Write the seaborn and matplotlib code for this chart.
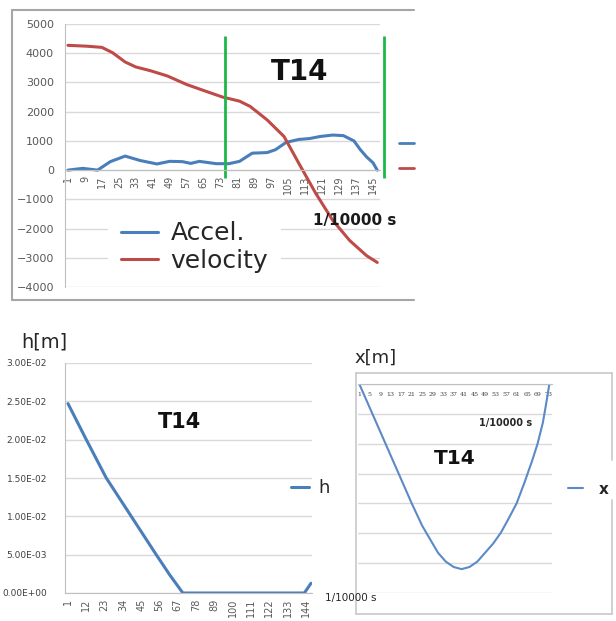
import numpy as np
import pandas as pd
import matplotlib
matplotlib.use("Agg")
import matplotlib.pyplot as plt
from matplotlib.lines import Line2D
from matplotlib.ticker import FormatStrFormatter
import seaborn as sns

# Top panel: acceleration and velocity (time in 1/10000 s)
acc_t = [1, 8, 15, 21, 28, 35, 43, 49, 55, 59, 63, 71, 77, 82, 88, 95, 99, 104, 110, 115, 120, 126, 131, 136, 139, 142, 145, 147]
acc = [0, 60, 0, 290, 480, 330, 210, 300, 290, 230, 300, 220, 220, 300, 580, 600, 700, 950, 1050, 1080, 1150, 1200, 1180, 1000, 700, 450, 250, 0]

vel_t = [1, 10, 17, 22, 28, 33, 40, 48, 57, 66, 74, 82, 87, 95, 103, 110, 118, 126, 134, 142, 147]
vel = [4270, 4240, 4200, 4020, 3700, 3530, 3400, 3220, 2930, 2700, 2500, 2360, 2180, 1720, 1150, 230, -800, -1720, -2410, -2930, -3160]

window = [75, 150]          # green markers for the T14 window
top_xticks = list(range(1, 146, 8))

# Bottom-left panel: height h[m]
h_t = [1, 12, 24, 39, 54, 62, 70, 143, 147]
h = [0.0247, 0.020, 0.015, 0.010, 0.005, 0.0024, 0.0, 0.0, 0.00127]
h_xticks = list(range(1, 145, 11))

# Bottom-right panel: horizontal position x[m]
x_t = [1, 6, 11, 16, 21, 25, 28, 31, 34, 37, 40, 43, 46, 49, 52, 55, 58, 61, 64, 67, 69, 71, 72, 73.5]
x_pos = [0, -1.0e-4, -2.0e-4, -3.0e-4, -4.0e-4, -4.75e-4, -5.2e-4, -5.65e-4, -5.95e-4, -6.13e-4,
         -6.2e-4, -6.13e-4, -5.95e-4, -5.65e-4, -5.35e-4, -4.98e-4, -4.5e-4, -4.0e-4, -3.3e-4,
         -2.55e-4, -2.0e-4, -1.3e-4, -0.8e-4, 0]
x_xticks = list(range(1, 74, 4))

BLUE = "#4a7ebb"
RED = "#be4b48"
GREEN = "#1cb84a"
GRID = "#d9d9d9"
AXIS = "#bfbfbf"
TXT = "#595959"

sns.set_style("white")
plt.rcParams["font.family"] = ["DejaVu Sans"]

W, H = 616, 621
fig = plt.figure(figsize=(W / 100, H / 100), dpi=100)


def box(l, t, r, b):
    return [l / W, 1 - b / H, (r - l) / W, (b - t) / H]


def fx(x):
    return x / W


def fy(y):
    return 1 - y / H


def line(x0, y0, x1, y1, **kw):
    fig.add_artist(Line2D([fx(x0), fx(x1)], [fy(y0), fy(y1)], transform=fig.transFigure, **kw))


# ---------------- top panel ----------------
ax1 = fig.add_axes(box(65, 24, 380, 287))
acc_df = pd.DataFrame({"t": acc_t, "v": acc})
vel_df = pd.DataFrame({"t": vel_t, "v": vel})
sns.lineplot(data=acc_df, x="t", y="v", ax=ax1, color=BLUE, lw=2.2, label="Accel.")
sns.lineplot(data=vel_df, x="t", y="v", ax=ax1, color=RED, lw=2.2, label="velocity")
ax1.vlines(window, -270, 4590, color=GREEN, lw=2, clip_on=False)
for s in ["top", "right"]:
    ax1.spines[s].set_visible(False)
ax1.spines["bottom"].set_position(("data", 0))
ax1.spines["bottom"].set_color(AXIS)
ax1.spines["left"].set_color(AXIS)
ax1.set_xlim(-0.4, 148.3)
ax1.set_ylim(-4000, 5000)
ax1.set_yticks(range(-4000, 5001, 1000))
ax1.set_xticks(top_xticks)
ax1.set_xticks(range(1, 148, 2), minor=True)
ax1.set_xticklabels([str(t) for t in top_xticks], rotation=90, fontsize=7, color=TXT)
ax1.tick_params(axis="y", labelsize=8, labelcolor=TXT, length=0, pad=8)
ax1.tick_params(axis="x", which="both", length=3, color=AXIS, pad=1, direction="out")
ax1.yaxis.grid(True, color=GRID, lw=1)
ax1.set_axisbelow(True)
ax1.set_xlabel("")
ax1.set_ylabel("")
ax1.legend(loc="upper left", bbox_to_anchor=(fx(108), fy(209)), bbox_transform=fig.transFigure,
           fontsize=18, handlelength=1.5, handletextpad=0.5, labelspacing=0.15, borderpad=0.5,
           borderaxespad=0, frameon=True, facecolor="white", edgecolor="none", framealpha=1,
           labelcolor="#262626")
fig.text(fx(300), fy(72), "T14", fontsize=20, fontweight="bold", ha="center", va="center", color="#111111")
fig.text(fx(355), fy(221), "1/10000 s", fontsize=11, fontweight="bold", ha="center", va="center", color="#1a1a1a")
# clipped legend stubs at the right edge and outer frame
line(399, 143, 414, 143, color=BLUE, lw=2)
line(399, 168, 414, 168, color=RED, lw=2)
line(12, 10, 414, 10, color="#a6a6a6", lw=1.5)
line(12, 10, 12, 300, color="#a6a6a6", lw=1.5)
line(12, 300, 414, 300, color="#a6a6a6", lw=1.5)

# ---------------- bottom-left panel ----------------
ax2 = fig.add_axes(box(65, 363, 312, 593))
h_df = pd.DataFrame({"t": h_t, "h": h})
sns.lineplot(data=h_df, x="t", y="h", ax=ax2, color=BLUE, lw=2.2, label="h")
for s in ["top", "right"]:
    ax2.spines[s].set_visible(False)
ax2.spines["bottom"].set_color(AXIS)
ax2.spines["left"].set_color(AXIS)
ax2.set_xlim(-0.8, 147.6)
ax2.set_ylim(0, 0.03)
ax2.set_yticks(np.arange(0, 0.0301, 0.005))
ax2.yaxis.set_major_formatter(FormatStrFormatter("%.2E"))
ax2.set_xticks(h_xticks)
ax2.set_xticks(range(1, 148, 2), minor=True)
ax2.set_xticklabels([str(t) for t in h_xticks], rotation=90, fontsize=7, color=TXT)
ax2.tick_params(axis="y", labelsize=6.5, labelcolor="#404040", length=0, pad=13)
ax2.tick_params(axis="x", which="both", length=3, color=AXIS, pad=1)
ax2.yaxis.grid(True, color=GRID, lw=1)
ax2.set_axisbelow(True)
ax2.set_xlabel("")
ax2.set_ylabel("")
ax2.legend(loc="center left", bbox_to_anchor=(fx(280), fy(488)), bbox_transform=fig.transFigure,
           fontsize=13, handlelength=1.0, handletextpad=0.5, borderpad=0.1, frameon=False,
           labelcolor="#262626")
fig.text(fx(44), fy(342), "h[m]", fontsize=14, ha="center", va="center", color="#262626")
fig.text(fx(180), fy(422), "T14", fontsize=15, fontweight="bold", ha="center", va="center", color="#111111")

# ---------------- bottom-right panel ----------------
line(356, 373, 612, 373, color="#c8c8c8", lw=1.2)
line(356, 373, 356, 614, color="#c8c8c8", lw=1.2)
line(356, 614, 612, 614, color="#c8c8c8", lw=1.2)
line(612, 373, 612, 460, color="#c8c8c8", lw=1.2)
line(612, 500, 612, 614, color="#c8c8c8", lw=1.2)

ax3 = fig.add_axes(box(358, 384, 552, 593))
x_df = pd.DataFrame({"t": x_t, "x": x_pos})
sns.lineplot(data=x_df, x="t", y="x", ax=ax3, color="#5b8ac6", lw=1.5, label="x")
for s in ["top", "right", "left"]:
    ax3.spines[s].set_visible(False)
ax3.spines["bottom"].set_position(("data", 0))
ax3.spines["bottom"].set_color(AXIS)
ax3.set_xlim(0.5, 74.5)
ax3.set_ylim(-7e-4, 0)
ax3.set_yticks(np.arange(-7e-4, 1e-5, 1e-4))
ax3.set_yticklabels([])
ax3.set_xticks(x_xticks)
ax3.set_xticklabels([str(t) for t in x_xticks], fontsize=4.5, family="DejaVu Serif", color="#404040")
ax3.tick_params(axis="both", length=0)
ax3.tick_params(axis="x", pad=6)
ax3.yaxis.grid(True, color=GRID, lw=1)
ax3.set_axisbelow(True)
ax3.set_xlabel("")
ax3.set_ylabel("")
ax3.legend(loc="center left", bbox_to_anchor=(fx(559), fy(489)), bbox_transform=fig.transFigure,
           handlelength=1.0, handletextpad=1.0, borderpad=0.1, frameon=False,
           prop={"weight": "bold", "size": 11})
fig.text(fx(376), fy(358), "x[m]", fontsize=13, ha="center", va="center", color="#262626")
fig.text(fx(506), fy(423), "1/10000 s", fontsize=7, fontweight="bold", ha="center", va="center", color="#262626")
fig.text(fx(455), fy(458), "T14", fontsize=14.5, fontweight="bold", ha="center", va="center", color="#111111")

# x-axis unit label of the bottom-left panel, drawn over the right panel's frame
fig.text(fx(325), fy(598), "1/10000 s", fontsize=7.5, ha="left", va="center", color="#262626")

fig.savefig("out.png", dpi=100, facecolor="white")
